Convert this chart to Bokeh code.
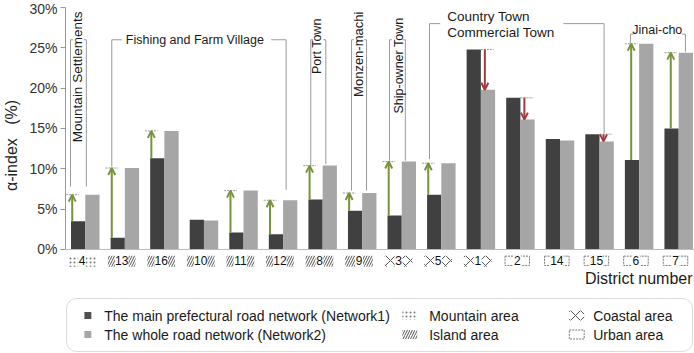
import math
from bokeh.plotting import figure
from bokeh.layouts import column
from bokeh.models import (Range1d, FixedTicker, PrintfTickFormatter, Span, Arrow,
                          OpenHead, ColumnDataSource, BoxAnnotation)
from bokeh.transform import dodge
from bokeh.core.properties import value
from bokeh.embed import file_html
from bokeh.resources import INLINE

# ---------------- data ----------------
districts = ["4", "13", "16", "10", "11", "12", "8", "9", "3", "5", "1", "2", "14", "15", "6", "7"]
area = ["Mountain", "Island", "Island", "Island", "Island", "Island", "Island", "Island",
        "Coastal", "Coastal", "Coastal", "Urban", "Urban", "Urban", "Urban", "Urban"]
network1 = [3.5, 1.45, 11.3, 3.7, 2.1, 1.9, 6.2, 4.8, 4.2, 6.8, 24.8, 18.8, 13.7, 14.3, 11.1, 15.0]
network2 = [6.8, 10.1, 14.7, 3.6, 7.3, 6.1, 10.4, 7.0, 10.9, 10.7, 19.8, 16.1, 13.5, 13.4, 25.5, 24.4]
y_ticks = [0, 5, 10, 15, 20, 25, 30]

FONT = "Liberation Sans"
DARK = "#404040"
LIGHT = "#a6a6a6"
GREEN = "#77933c"
RED = "#a23b3a"
BRK = "#9a9a9a"

idx = list(range(len(districts)))

p = figure(width=694, height=290, x_range=Range1d(-0.5, 15.4), y_range=Range1d(-5.083, 30.867),
           x_axis_location=None, output_backend="svg", toolbar_location=None,
           min_border=0, min_border_left=61, outline_line_color=None)
p.grid.grid_line_color = None
p.background_fill_color = "white"

ya = p.yaxis[0]
ya.bounds = (0, 30)
ya.ticker = FixedTicker(ticks=y_ticks, minor_ticks=[])
ya.formatter = PrintfTickFormatter(format="%d%%")
ya.major_tick_in = 0
ya.major_tick_out = 5
ya.minor_tick_line_color = None
ya.axis_line_color = "#999999"
ya.major_tick_line_color = "#999999"
ya.major_label_text_font = FONT
ya.major_label_text_font_size = "14px"
ya.major_label_text_color = "#333333"
ya.major_label_standoff = 3
ya.axis_label = "α-index\u00a0\u00a0\u00a0(%)"
ya.axis_label_text_font = FONT
ya.axis_label_text_font_size = "16px"
ya.axis_label_text_font_style = "normal"
ya.axis_label_text_color = "#222222"
ya.axis_label_standoff = 6

p.add_layout(Span(location=0, dimension="width", line_color="#bbbbbb", line_width=1))

src = ColumnDataSource(dict(x=idx, n1=network1, n2=network2))
p.vbar(x=dodge("x", -0.18), top="n1", width=0.36, bottom=0, source=src,
       fill_color=DARK, line_color=None)
p.vbar(x=dodge("x", 0.18), top="n2", width=0.36, bottom=0, source=src,
       fill_color=LIGHT, line_color=None)

# ---------------- change arrows ----------------
ARROW_OFF = {"6": -0.2, "7": -0.2}
gx, g0, g1, rx, r0, r1 = [], [], [], [], [], []
for i in idx:
    d = network2[i] - network1[i]
    if d > 0.5:
        gx.append(i + ARROW_OFF.get(districts[i], -0.33)); g0.append(network1[i]); g1.append(network2[i])
    elif d < -0.5:
        rx.append(i + 0.1); r0.append(network1[i]); r1.append(network2[i])

gsrc = ColumnDataSource(dict(x=gx, y0=g0, y1=g1, xa=[v - 0.16 for v in gx], xb=[v + 0.16 for v in gx]))
rsrc = ColumnDataSource(dict(x=rx, y0=r0, y1=r1, xa=[v - 0.1 for v in rx], xb=[v + 0.22 for v in rx]))
p.segment(x0="xa", x1="xb", y0="y1", y1="y1", source=gsrc, line_color=BRK, line_width=1, line_dash="2 1")
p.segment(x0="xa", x1="xb", y0="y0", y1="y0", source=rsrc, line_color=BRK, line_width=1, line_dash="2 1")
p.add_layout(Arrow(end=OpenHead(size=7, line_color=GREEN, line_width=2), x_start="x", y_start="y0",
                   x_end="x", y_end="y1", source=gsrc, line_color=GREEN, line_width=2))
p.add_layout(Arrow(end=OpenHead(size=7, line_color=RED, line_width=2), x_start="x", y_start="y0",
                   x_end="x", y_end="y1", source=rsrc, line_color=RED, line_width=2))

# ---------------- category brackets ----------------
bxs = [
    [-0.374, -0.374], [0.027, 0.027], [-0.374, -0.31], [-0.04, 0.027],
    [0.67, 0.67, 0.93], [4.70, 5.077, 5.077],
    [5.70, 5.70], [6.08, 6.08], [5.70, 5.76], [6.02, 6.08],
    [6.73, 6.73], [7.11, 7.11], [6.73, 6.79], [7.05, 7.11],
    [7.69, 7.69], [8.09, 8.09], [7.69, 7.75], [8.03, 8.09],
    [8.70, 8.70, 8.97], [12.085, 13.115, 13.115],
    [13.78, 13.78, 13.86], [15.08, 15.17, 15.17],
]
bys = [
    [26, 7.8], [26, 7.8], [26, 26], [26, 26],
    [10.3, 26, 26], [26, 26, 7.4],
    [26, 10.3], [26, 10.6], [26, 26], [26, 26],
    [26, 7.3], [26, 7.3], [26, 26], [26, 26],
    [26, 11.0], [26, 11.0], [26, 26], [26, 26],
    [11.2, 28, 28], [28, 28, 14.4],
    [25.6, 26.7, 26.7], [26.7, 26.7, 24.5],
]
p.multi_line(xs=bxs, ys=bys, line_color=BRK, line_width=1)

def label(x, y, t, size, angle=0.0, align="center"):
    p.text(x=[x], y=[y], text=[t], angle=angle, text_font=value(FONT), text_font_size=size,
           text_align=align, text_baseline="middle", text_color="#1a1a1a")

label(-0.2, 21.4, "Mountain Settlements", "13.5px", math.pi / 2)
p.rect(x=[2.77], y=[26], width=3.55, height=2.0, fill_color="white", line_color=None)
label(2.77, 26.0, "Fishing and Farm Village", "12.5px")
label(5.87, 25.2, "Port Town", "12.5px", math.pi / 2)
label(6.9, 24.2, "Monzen-machi", "13px", math.pi / 2)
label(7.93, 22.8, "Ship-owner Town", "12.5px", math.pi / 2)
label(9.15, 28.9, "Country Town", "13.5px", align="left")
label(9.15, 26.9, "Commercial Town", "13.5px", align="left")
label(14.46, 27.15, "Jinai-cho", "12.5px")
label(15.35, -3.6, "District number", "16px", align="right")

# ---------------- district tick labels with area patterns ----------------
HATCH = {"Mountain": ("dot", 4, "#777777"),
         "Island": ("right_diagonal_line", 5, "#555555"),
         "Coastal": ("diagonal_cross", 10, "#555555")}
lx = [i - 0.08 for i in idx]
for a, (pat, sc, col) in HATCH.items():
    xs = [lx[i] for i in idx if area[i] == a]
    p.rect(x=xs, y=-1.45, width=0.7, height=1.35, fill_alpha=0, line_color=None,
           hatch_pattern=pat, hatch_scale=sc, hatch_color=col, hatch_weight=1)
ux = [lx[i] for i in idx if area[i] == "Urban"]
p.rect(x=ux, y=-1.4, width=0.62, height=1.15, fill_color="white", line_color="#777777",
       line_dash="2 1", line_width=1)
p.rect(x=lx, y=-1.45, width=[0.2 if len(d) == 1 else 0.34 for d in districts], height=1.45,
       fill_color="white", line_color=None)
p.text(x=lx, y=-1.4, text=districts, text_font=value(FONT), text_font_size="12px",
       text_align="center", text_baseline="middle", text_color="#111111")

# ---------------- legend panel (coordinates in page pixels) ----------------
leg = figure(width=694, height=63, x_range=Range1d(61, 694), y_range=Range1d(0, 63),
             x_axis_location=None, y_axis_location=None, output_backend="svg",
             toolbar_location=None, min_border=0, min_border_left=61, outline_line_color=None)
leg.grid.grid_line_color = None
leg.add_layout(BoxAnnotation(left=62, right=692, top=55, bottom=2, border_radius=10,
                             fill_alpha=0, line_color="#888888", line_width=1))
leg.rect(x=[83.5, 83.5], y=[38, 19], width=7, height=7, fill_color=["#505050", LIGHT], line_color=None)
leg.rect(x=[407.5], y=[38], width=15, height=9, fill_alpha=0, line_color=None,
         hatch_pattern="dot", hatch_scale=4, hatch_color="#777777")
leg.rect(x=[407.5], y=[19], width=15, height=9, fill_alpha=0, line_color=None,
         hatch_pattern="right_diagonal_line", hatch_scale=5, hatch_color="#555555")
leg.rect(x=[575.5], y=[38], width=15, height=10, fill_alpha=0, line_color=None,
         hatch_pattern="diagonal_cross", hatch_scale=10, hatch_color="#555555")
leg.rect(x=[575.5], y=[19], width=15, height=9, fill_color="white", line_color="#777777",
         line_dash="2 1")
leg.text(x=[100, 100, 427, 427, 592, 592], y=[38, 19, 38, 19, 38, 19],
         text=["The main prefectural road network (Network1)", "The whole road network (Network2)",
               "Mountain area", "Island area", "Coastal area", "Urban area"],
         text_font=value(FONT), text_font_size="14px", text_align="left",
         text_baseline="middle", text_color="#1a1a1a")

out = column(p, leg, spacing=0)
open("out.html", "w").write(file_html(out, INLINE))
